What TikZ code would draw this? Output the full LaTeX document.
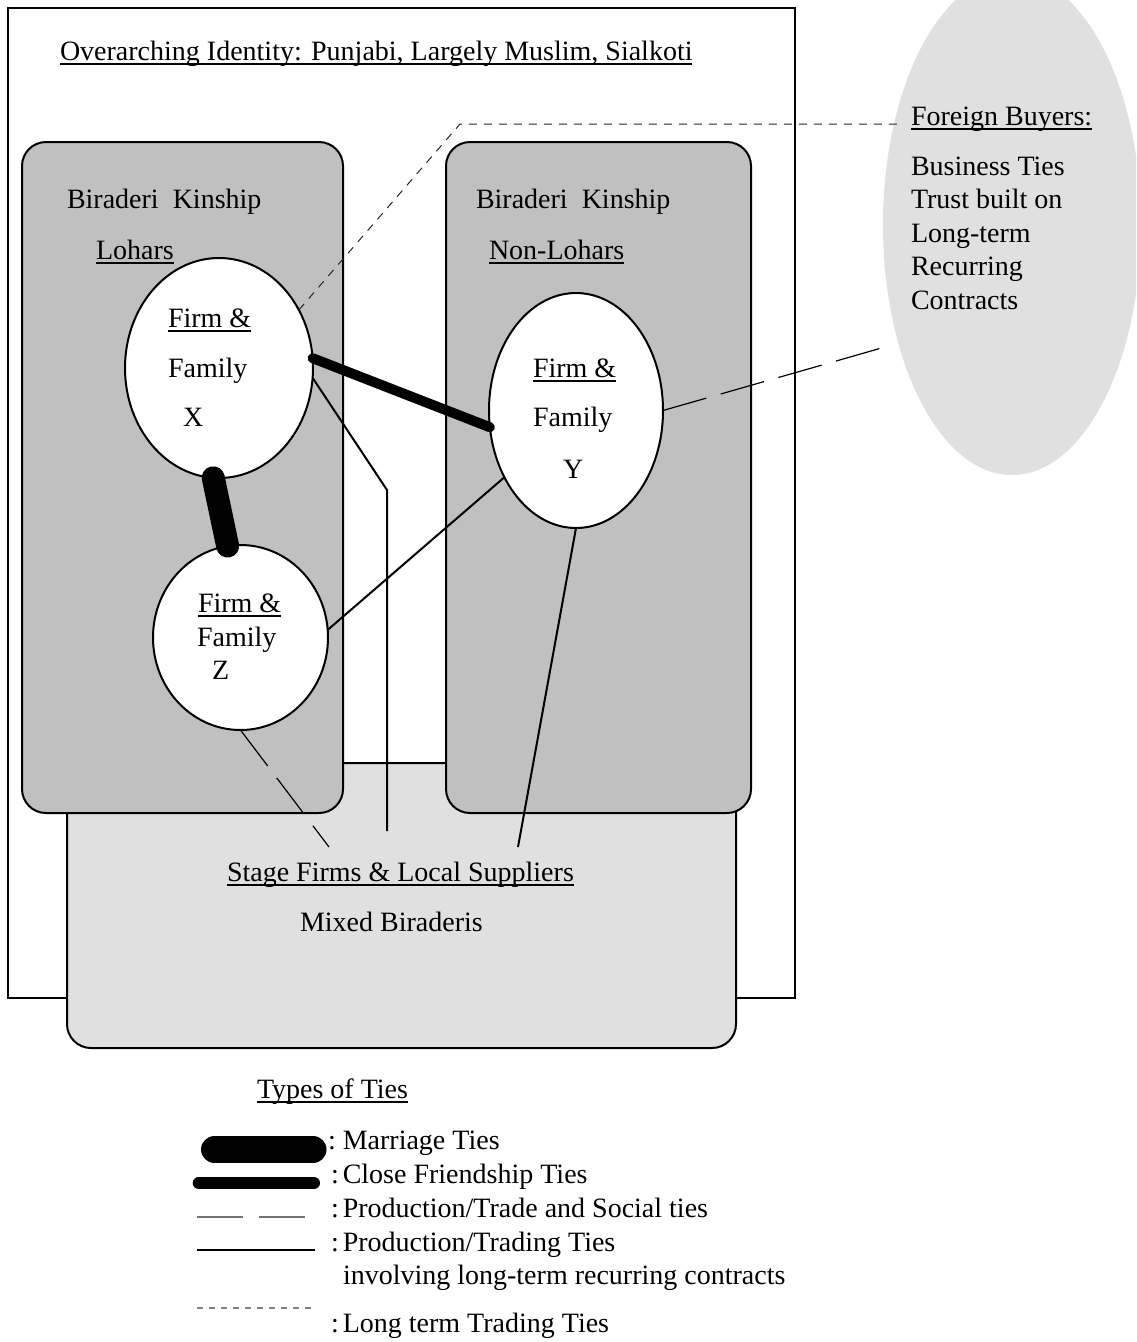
\documentclass[tikz,border=0pt]{standalone}
\usepackage{fontspec}
\setmainfont{Liberation Serif}
\usetikzlibrary{shapes.geometric}
\definecolor{boxgray}{RGB}{192,192,192}
\definecolor{palegray}{RGB}{224,224,224}
\newcommand\ulx[1]{\setbox0=\hbox{#1}\rlap{\rule[-4.5pt]{\wd0}{1.5pt}}\box0}
\begin{document}
\begin{tikzpicture}[x=1pt,y=-1pt,
  txt/.style={inner sep=0pt, outer sep=0pt, anchor=base west, font=\fontsize{28}{33}\selectfont},
  frame/.style={draw=black, line width=2pt},
  graybox/.style={draw=black, line width=2pt, fill=boxgray, rounded corners=24pt},
  palebox/.style={draw=black, line width=2pt, fill=palegray, rounded corners=24pt},
  firm/.style={ellipse, draw=black, line width=2pt, fill=white, inner sep=0pt, outer sep=0pt},
  marriage/.style={line width=23pt, line cap=round},
  friend/.style={line width=10pt, line cap=round},
  trade/.style={line width=2pt},
  social/.style={line width=1.2pt, dash pattern=on 45pt off 15pt},
  longterm/.style={line width=1pt, black!85, dash pattern=on 8pt off 7pt},
  legsocial/.style={line width=1.5pt, black!55, dash pattern=on 46pt off 16pt},
  leglong/.style={line width=1.2pt, black!50, dash pattern=on 6pt off 6pt}]
\useasboundingbox (0,0) rectangle (1136,1342);
\clip (0,0) rectangle (1136,1342);
\fill[white] (0,0) rectangle (1136,1342);

% Foreign buyers
\node[ellipse, fill=palegray, inner sep=0pt, outer sep=0pt, minimum width=258pt, minimum height=500pt] (FB) at (1012,225) {};

% outer frame and boxes
\draw[frame, fill=white] (8,8) rectangle (795,998);
\draw[palebox] (67,763) rectangle (736,1048);
\draw[graybox] (22,142) rectangle (343,813);
\draw[graybox] (446,142) rectangle (751,813);

% firm ellipses
\node[firm, minimum width=188pt, minimum height=220pt] (X) at (219,368) {};
\node[firm, minimum width=174pt, minimum height=235pt] (Y) at (576,410.5) {};
\node[firm, minimum width=175pt, minimum height=185pt] (Z) at (240.5,637.5) {};

% texts
\node[txt] (tover) at (60,60) {\ulx{Overarching Identity: Punjabi, Largely Muslim, Sialkoti}};
\node[txt] (tbkl) at (67,208) {Biraderi\ \ Kinship};
\node[txt] (tloh) at (96,259) {\ulx{Lohars}};
\node[txt] (tbkr) at (476,208) {Biraderi\ \ Kinship};
\node[txt] (tnloh) at (489,259) {\ulx{Non-Lohars}};
\node[txt] (tx1) at (168,327) {\ulx{Firm \&}};
\node[txt] (tx2) at (168,377) {Family};
\node[txt] (tx3) at (183,426) {X};
\node[txt] (ty1) at (533,377) {\ulx{Firm \&}};
\node[txt] (ty2) at (533,426) {Family};
\node[txt] (ty3) at (563,478) {Y};
\node[txt] (tz1) at (198,612) {\ulx{Firm \&}};
\node[txt] (tz2) at (197,646) {Family};
\node[txt] (tz3) at (212,679) {Z};
\node[txt] (tsf) at (227,881) {\ulx{Stage Firms \& Local Suppliers}};
\node[txt] (tmb) at (300,931) {Mixed Biraderis};
\node[txt] (tfb) at (911,125) {\ulx{Foreign Buyers:}};
\node[txt] (tfb1) at (911,175) {Business Ties};
\node[txt] (tfb2) at (911,208.5) {Trust built on};
\node[txt] (tfb3) at (911,242) {Long-term};
\node[txt] (tfb4) at (911,275.5) {Recurring};
\node[txt] (tfb5) at (911,309) {Contracts};

% connector end points
\coordinate (sfA) at (329,847);
\coordinate (sfB) at (387,831);
\coordinate (sfC) at (518,847);
\coordinate (bend) at (387,490);
\coordinate (fbY) at (885,347);
\coordinate (corner) at (460,124);
\coordinate (fbT) at (897,124);

% connectors
\draw[marriage] (X.-93) -- (Z.98);
\draw[friend] (X.6) -- (Y.191);
\draw[trade] (X.-6) -- (bend) -- (sfB);
\draw[trade] (Y.223) -- (Z.5);
\draw[trade] (Y.south) -- (sfC);
\draw[social] (Z.south) -- (sfA);
\draw[social] (Y.east) -- (fbY);
\draw[longterm] (X.36) -- (corner) -- (fbT);

% legend
\node[txt] (ttypes) at (257,1098) {\ulx{Types of Ties}};
\coordinate (lm1) at (214.5,1149.5); \coordinate (lm2) at (313,1149.5);
\coordinate (lf1) at (198.7,1183); \coordinate (lf2) at (314,1183);
\coordinate (ls1) at (197,1217); \coordinate (ls2) at (305,1217);
\coordinate (lt1) at (197,1250); \coordinate (lt2) at (315,1250);
\coordinate (ll1) at (197,1308); \coordinate (ll2) at (311,1308);
\draw[line width=27pt, line cap=round] (lm1) -- (lm2);
\draw[line width=12pt, line cap=round] (lf1) -- (lf2);
\draw[legsocial] (ls1) -- (ls2);
\draw[trade] (lt1) -- (lt2);
\draw[leglong] (ll1) -- (ll2);
\node[txt] (lgm) at (328,1149) {:\hspace{7pt}Marriage Ties};
\node[txt] (lgf) at (331,1183) {:\hspace{4pt}Close Friendship Ties};
\node[txt] (lgs) at (331,1217) {:\hspace{4pt}Production/Trade and Social ties};
\node[txt] (lgt) at (331,1251) {:\hspace{4pt}Production/Trading Ties};
\node[txt] (lgt2) at (343,1284) {involving long-term recurring contracts};
\node[txt] (lgl) at (331,1332) {:\hspace{4pt}Long term Trading Ties};
\end{tikzpicture}
\end{document}
